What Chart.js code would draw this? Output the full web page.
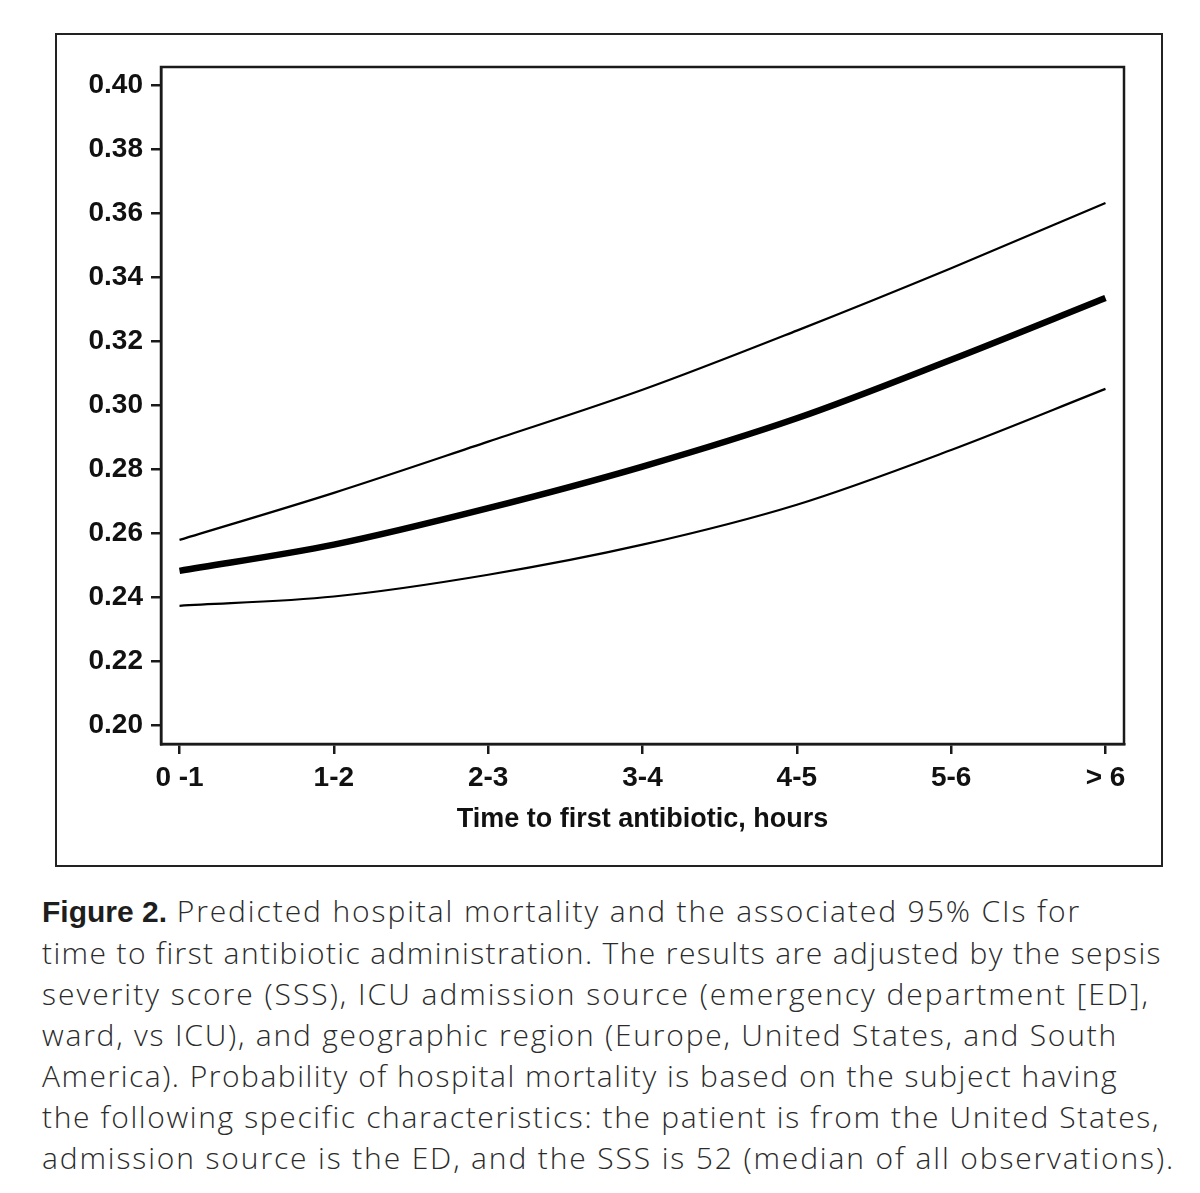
<!DOCTYPE html>
<html>
<head>
<meta charset="utf-8">
<script src="https://cdn.jsdelivr.net/npm/chart.js@4/dist/chart.umd.min.js"></script>
<style>
  html, body { margin:0; padding:0; background:#fff; }
  body { width:1200px; height:1193px; position:relative; overflow:hidden; }
  #frame { position:absolute; left:55px; top:33px; width:1108px; height:834px; box-sizing:border-box; border:2px solid #222; }
  #wrap { position:absolute; left:0; top:0; width:1200px; height:880px; }
  #caption { position:absolute; left:42px; top:890px; width:1158px; font-family:"Open Sans", "Roboto", "Liberation Sans", sans-serif; font-weight:300; font-size:30px; line-height:41px; color:#2b2b2b; white-space:nowrap; }
  #caption b { font-family:"Liberation Sans", Arial, sans-serif; font-weight:700; color:#1e1e1e; letter-spacing:0; }
</style>
</head>
<body>
<div id="frame"></div>
<div id="wrap"><canvas id="c"></canvas></div>
<div id="caption">
<div class="ln" data-w="1056"><b>Figure 2.</b> Predicted hospital mortality and the associated 95% CIs for</div>
<div class="ln" data-w="1120">time to first antibiotic administration. The results are adjusted by the sepsis</div>
<div class="ln" data-w="1108">severity score (SSS), ICU admission source (emergency department [ED],</div>
<div class="ln" data-w="1076">ward, vs ICU), and geographic region (Europe, United States, and South</div>
<div class="ln" data-w="1076">America). Probability of hospital mortality is based on the subject having</div>
<div class="ln" data-w="1118">the following specific characteristics: the patient is from the United States,</div>
<div class="ln" data-w="1133">admission source is the ED, and the SSS is 52 (median of all observations).</div>
</div>
<script>
const categories = ["0 -1", "1-2", "2-3", "3-4", "4-5", "5-6", "> 6"];
const upperCI   = [0.2578, 0.2725, 0.2885, 0.3047, 0.3232, 0.3427, 0.3631];
const predicted = [0.2481, 0.2563, 0.2677, 0.2807, 0.2958, 0.3141, 0.3334];
const lowerCI   = [0.2372, 0.2401, 0.2469, 0.2563, 0.2688, 0.2859, 0.3050];
const yTickValues = [0.20, 0.22, 0.24, 0.26, 0.28, 0.30, 0.32, 0.34, 0.36, 0.38, 0.40];
const xTitle = "Time to first antibiotic, hours";

// fit caption line widths to the reference's justified-looking measure
document.querySelectorAll('#caption .ln').forEach(el => {
  const span = document.createElement('span');
  while (el.firstChild) span.appendChild(el.firstChild);
  el.appendChild(span);
  const target = +el.dataset.w;
  const w = span.getBoundingClientRect().width;
  const n = span.textContent.length;
  if (n > 1 && w < target) span.style.letterSpacing = ((target - w) / n).toFixed(3) + 'px';
});

const toPts = arr => arr.map((v, i) => ({x: i, y: v}));

const boxPlugin = {
  id: 'box',
  afterDraw(chart) {
    const {ctx, chartArea: a} = chart;
    ctx.save();
    ctx.strokeStyle = '#1a1a1a';
    ctx.lineWidth = 2.5;
    ctx.strokeRect(a.left, a.top, a.right - a.left, a.bottom - a.top);
    ctx.restore();
  }
};

const tickFont = { family: "'Liberation Sans', Arial, sans-serif", size: 28, weight: 'bold' };
const titleFont = { family: "'Liberation Sans', Arial, sans-serif", size: 27, weight: 'bold' };

new Chart(document.getElementById('c'), {
  type: 'line',
  data: {
    datasets: [
      { data: toPts(upperCI), borderColor: '#000', borderWidth: 2.2, pointRadius: 0, cubicInterpolationMode: 'monotone' },
      { data: toPts(predicted), borderColor: '#000', borderWidth: 6.5, pointRadius: 0, cubicInterpolationMode: 'monotone' },
      { data: toPts(lowerCI), borderColor: '#000', borderWidth: 2.2, pointRadius: 0, cubicInterpolationMode: 'monotone' }
    ]
  },
  options: {
    responsive: true,
    maintainAspectRatio: false,
    animation: false,
    devicePixelRatio: 1,
    layout: { padding: { left: 0, top: 67, right: 76, bottom: 0 } },
    plugins: { legend: { display: false }, tooltip: { enabled: false } },
    scales: {
      x: {
        type: 'linear',
        min: -0.12, max: 6.12,
        afterBuildTicks: s => { s.ticks = categories.map((_, i) => ({value: i})); },
        afterFit: s => { s.height = 136; },
        grid: { drawOnChartArea: false, drawTicks: true, tickLength: 10, color: '#1a1a1a', lineWidth: 2.5 },
        border: { display: true, color: '#1a1a1a', width: 2.5 },
        ticks: { font: tickFont, color: '#111', padding: 7, maxRotation: 0, autoSkip: false,
                 callback: v => categories[v] },
        title: { display: true, text: xTitle, font: titleFont, color: '#111', padding: { top: 0, bottom: 44 } }
      },
      y: {
        type: 'linear',
        min: 0.194, max: 0.4056,
        afterBuildTicks: s => { s.ticks = yTickValues.map(v => ({value: v})); },
        afterFit: s => { s.width = 161; },
        grid: { drawOnChartArea: false, drawTicks: true, tickLength: 10, color: '#1a1a1a', lineWidth: 2.5 },
        border: { display: true, color: '#1a1a1a', width: 2.5 },
        ticks: { font: tickFont, color: '#111', padding: 8, callback: v => v.toFixed(2) }
      }
    }
  },
  plugins: [boxPlugin]
});
</script>
</body>
</html>
